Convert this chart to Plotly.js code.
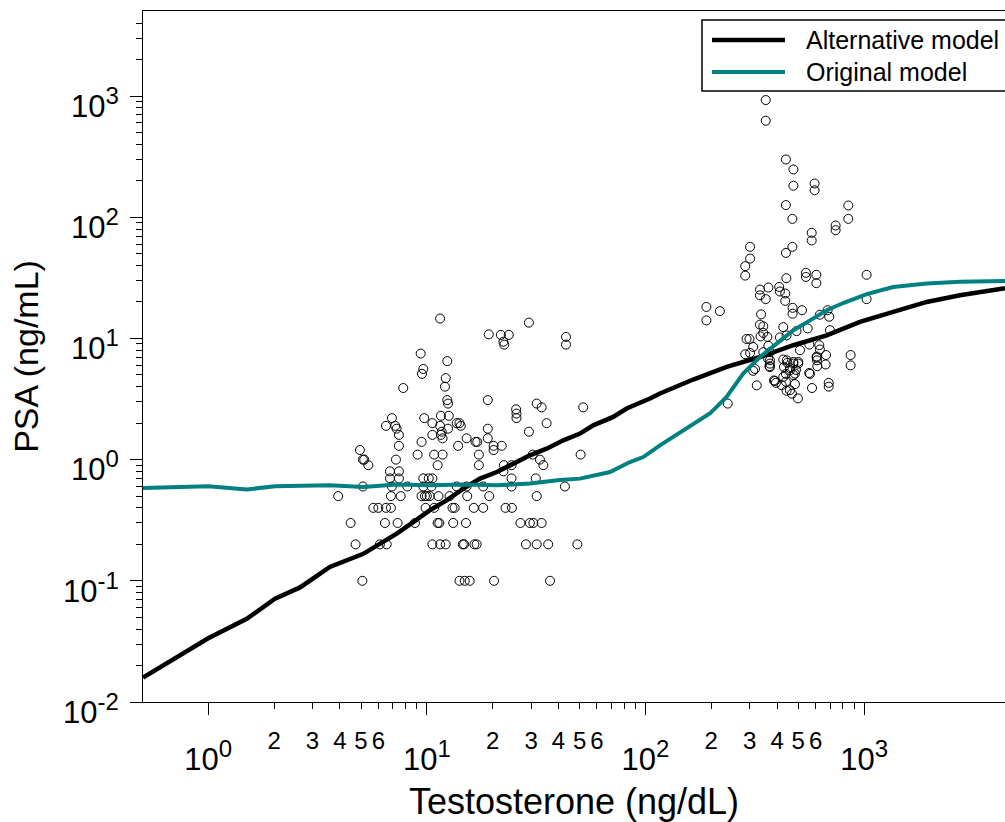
<!DOCTYPE html>
<html>
<head>
<meta charset="utf-8">
<script src="https://cdn.plot.ly/plotly-3.0.1.min.js"></script>
<style>html,body{margin:0;padding:0;background:#fff;overflow:hidden;}#chart{width:1005px;height:822px;}</style>
</head>
<body>
<div id="chart"></div>
<script>
// ---- Model curves ----
const altT   = [0.503, 1.0, 1.5, 2.02, 2.63, 3.6, 5.12, 6.1, 7.28, 8.67, 10.3, 12.3, 14.7, 17.5, 20.9, 24.9, 29.6, 35.3, 42.1, 50.2, 57.7, 71.2, 82.0, 104.9, 116.5, 165.4, 235.3, 334, 474.6, 674.5, 957.6, 1360, 1934, 2747, 4412];
const altPSA = [0.0159, 0.0336, 0.0486, 0.0711, 0.0882, 0.13, 0.167, 0.2025, 0.245, 0.305, 0.381, 0.461, 0.576, 0.697, 0.79, 0.927, 1.085, 1.232, 1.443, 1.64, 1.92, 2.25, 2.64, 3.19, 3.51, 4.58, 5.82, 7.03, 8.79, 10.6, 13.7, 16.55, 20.0, 22.7, 26.0];

const origT   = [0.503, 1.0, 1.5, 2.02, 3.6, 5.12, 7.28, 10.3, 14.7, 20.9, 29.6, 40.6, 50.2, 59.8, 68.8, 84.9, 97.7, 116.5, 154.3, 197, 235, 280, 334, 398, 475, 566, 675, 803, 1028, 1360, 1934, 2747, 4412];
const origPSA = [0.583, 0.602, 0.568, 0.602, 0.614, 0.594, 0.622, 0.614, 0.622, 0.614, 0.634, 0.68, 0.697, 0.742, 0.79, 0.955, 1.05, 1.31, 1.80, 2.40, 3.29, 5.13, 7.03, 9.08, 11.7, 14.1, 17.1, 19.6, 23.2, 26.6, 28.4, 29.3, 29.8];

// ---- Observed data (testosterone ng/dL, PSA ng/mL) ----
const obsT = [
  // low-testosterone group
  11.5, 29.3, 19.2, 21.8, 23.7, 22.4, 22.6, 43.3, 43.3, 9.37, 12.4, 9.63, 9.5, 12.2, 12.1, 7.8, 19.0, 12.4, 12.5, 31.8,
  33.5, 51.9, 25.6, 25.7, 25.7, 6.92, 6.5, 7.17, 7.27, 7.45, 9.73, 10.6, 11.6, 12.6, 11.5, 11.7, 11.6, 11.8, 12.5, 13.7,
  14.1, 14.3, 10.6, 15.2, 19.0, 19.0, 16.7, 17.0, 35.3, 29.3, 9.46, 7.45, 4.94, 5.1, 5.17, 5.4, 9.07, 10.8, 11.8, 13.9,
  17.3, 17.3, 20.2, 20.2, 22.0, 11.2, 7.22, 6.78, 7.45, 6.78, 7.45, 30.5, 32.9, 34.1, 50.5, 22.5, 24.4, 22.4, 31.5, 24.4,
  9.63, 10.2, 10.6,
  5.1, 6.92, 8.14, 9.63, 10.5, 13.7, 15.2, 18.1, 24.4, 42.8,
  3.93, 6.85, 7.59, 9.46, 9.8, 10.0, 10.3, 11.3, 12.7, 15.3, 19.3, 31.8,
  5.69, 6.0, 6.5, 6.85, 9.87, 10.8, 13.1, 13.4, 16.4, 18.1, 22.9, 24.5,
  4.48, 6.43, 7.35, 8.82, 11.2, 11.4, 13.2, 15.1, 26.8, 29.6, 30.7, 33.5,
  4.72, 6.1, 6.55, 10.6, 11.5, 12.2, 14.6, 14.8, 16.5, 16.9, 28.4, 31.8, 35.9, 48.8,
  5.07, 14.1, 14.9, 15.7, 20.3, 36.6,
  // high-testosterone group
  355, 355, 439, 475, 475, 594, 594, 439, 470, 847, 847, 741, 741, 576, 576, 470, 439, 301, 301, 286,
  286, 441, 542, 542, 605, 605, 1027, 1027, 334, 334, 365, 355, 409, 412, 436, 436, 471, 471, 520, 190,
  190, 219, 338, 628, 681, 693, 334, 346, 346, 336, 427, 491, 552, 698, 290, 299, 361, 412, 442, 365,
  311, 286, 301, 371, 509, 562, 624, 628, 607, 670, 868, 868, 371, 369, 317, 311, 427, 446, 475, 500,
  430, 458, 488, 439, 475, 566, 609, 611, 667, 387, 395, 439, 483, 442, 468, 498, 578, 689, 689, 323,
  238, 443, 475, 500, 458, 483, 427, 391, 420, 458, 561, 607, 346, 364, 371, 371
];
const obsPSA = [
  14.6, 13.5, 10.8, 10.7, 10.7, 9.4, 8.9, 10.3, 8.9, 7.5, 6.5, 5.6, 5.1, 4.7, 4.0, 3.9, 3.1, 3.1, 2.9, 2.9,
  2.7, 2.7, 2.6, 2.4, 2.2, 2.2, 1.9, 1.9, 1.8, 1.6, 2.2, 2.0, 2.3, 2.3, 1.9, 1.7, 1.6, 1.5, 1.8, 2.0,
  2.0, 1.9, 1.6, 1.5, 1.8, 1.5, 1.4, 1.4, 2.0, 1.7, 1.4, 1.3, 1.2, 1.0, 1.0, 0.9, 1.1, 1.1, 1.1, 1.3,
  1.1, 0.9, 1.3, 1.2, 1.3, 0.9, 1.0, 0.8, 0.8, 0.7, 0.7, 1.1, 1.0, 0.9, 1.1, 0.9, 0.9, 0.8, 0.7, 0.7,
  0.7, 0.7, 0.7,
  0.6, 0.6, 0.6, 0.6, 0.6, 0.6, 0.6, 0.6, 0.6, 0.6,
  0.5, 0.5, 0.5, 0.5, 0.5, 0.5, 0.5, 0.5, 0.5, 0.5, 0.5, 0.5,
  0.4, 0.4, 0.4, 0.4, 0.4, 0.4, 0.4, 0.4, 0.4, 0.4, 0.4, 0.4,
  0.3, 0.3, 0.3, 0.3, 0.3, 0.3, 0.3, 0.3, 0.3, 0.3, 0.3, 0.3,
  0.2, 0.2, 0.2, 0.2, 0.2, 0.2, 0.2, 0.2, 0.2, 0.2, 0.2, 0.2, 0.2, 0.2,
  0.1, 0.1, 0.1, 0.1, 0.1, 0.1,
  927, 626, 300, 248, 182, 190, 167, 126, 97, 125, 97, 85.5, 78.3, 74.4, 64.3, 57.0, 50.8, 57.0, 45.6, 39.5,
  33.0, 31.4, 34.8, 32.2, 33.5, 28.6, 33.5, 21.1, 25.3, 22.7, 26.3, 21.1, 26.6, 24.4, 23.5, 20.4, 17.9, 16.0, 17.1, 18.2,
  14.1, 16.8, 15.8, 15.7, 17.1, 15.1, 13.0, 12.6, 11.1, 10.4, 12.4, 11.5, 12.1, 11.7, 9.9, 9.9, 10.3, 10.2, 10.6, 8.7,
  8.5, 7.4, 7.6, 7.7, 8.0, 8.9, 8.8, 8.1, 7.1, 7.3, 7.3, 6.0, 6.6, 5.9, 5.6, 5.4, 6.7, 6.3, 6.4, 6.2,
  5.8, 5.7, 5.5, 5.1, 5.0, 5.1, 6.6, 5.9, 6.1, 4.5, 4.3, 4.4, 4.2, 3.7, 3.5, 3.2, 3.9, 4.3, 4.0, 4.1,
  2.9, 6.6, 6.2, 6.4, 5.46, 5.13, 4.81, 4.46, 4.11, 3.74, 5.19, 6.95, 7.7, 6.8, 6.2, 5.8
];

// ---- Tick labels and legend names ----
const supSize = 24;
function pow10(e) { return '10<sup><span style="font-size:' + supSize + 'px">' + e + '</span></sup>'; }
const xDecadeVals = [1, 10, 100, 1000];
const xDecadeText = ['0', '1', '2', '3'].map(pow10);
const xDigitVals = [2, 3, 4, 5, 6, 20, 30, 40, 50, 60, 200, 300, 400, 500, 600];
const xDigitText = ['2', '3', '4', '5', '6', '2', '3', '4', '5', '6', '2', '3', '4', '5', '6'];
const yDecadeVals = [0.01, 0.1, 1, 10, 100, 1000];
const yDecadeText = ['-2', '-1', '0', '1', '2', '3'].map(pow10);
const seriesNames = ['Alternative model', 'Original model'];

function minorVals(decades) {
  const out = [];
  decades.forEach(d => { for (let k = 2; k <= 9; k++) out.push(d * k); });
  return out;
}
const xMinor = minorVals([1, 10, 100]);
const yMinor = minorVals([0.01, 0.1, 1, 10, 100]).concat([2000, 3000, 4000]);

const FONT = '"Liberation Sans", Arial, Helvetica, sans-serif';
const TEAL = '#008080';
const xRange = [Math.log10(0.503), Math.log10(4412)];

const traces = [
  {
    x: obsT, y: obsPSA, type: 'scatter', mode: 'markers', showlegend: false,
    marker: {symbol: 'circle-open', size: 9, color: '#000', line: {width: 1, color: '#000'}},
    hoverinfo: 'x+y'
  },
  {
    x: altT, y: altPSA, type: 'scatter', mode: 'lines', name: seriesNames[0], showlegend: false,
    line: {color: '#000', width: 4.5}
  },
  {
    x: origT, y: origPSA, type: 'scatter', mode: 'lines', name: seriesNames[1], showlegend: false,
    line: {color: TEAL, width: 4}
  },
  // invisible trace that carries the digit labels on the second x axis
  {
    x: [1], y: [1], xaxis: 'x2', yaxis: 'y', mode: 'markers', showlegend: false,
    marker: {opacity: 0}, hoverinfo: 'skip'
  }
];

// legend box (paper coordinates of the plot area: 143..1005 px wide, 11..702 px high)
const px2x = p => (p - 143) / 862;
const px2y = p => (702 - p) / 691;
const shapes = [
  {type: 'rect', xref: 'paper', yref: 'paper', x0: px2x(702), x1: px2x(1012), y0: px2y(91), y1: px2y(20),
   line: {color: '#000', width: 1.5}, fillcolor: '#fff', layer: 'above'},
  {type: 'line', xref: 'paper', yref: 'paper', x0: px2x(712), x1: px2x(785), y0: px2y(40), y1: px2y(40),
   line: {color: '#000', width: 4.5}, layer: 'above'},
  {type: 'line', xref: 'paper', yref: 'paper', x0: px2x(712), x1: px2x(785), y0: px2y(72), y1: px2y(72),
   line: {color: TEAL, width: 4}, layer: 'above'}
];
const annotations = [
  {xref: 'paper', yref: 'paper', x: px2x(804), y: px2y(40), xanchor: 'left', yanchor: 'middle',
   text: seriesNames[0], showarrow: false, font: {family: FONT, size: 25, color: '#000'}},
  {xref: 'paper', yref: 'paper', x: px2x(804), y: px2y(72), xanchor: 'left', yanchor: 'middle',
   text: seriesNames[1], showarrow: false, font: {family: FONT, size: 25, color: '#000'}}
];

const layout = {
  width: 1005, height: 822,
  margin: {l: 143, r: 0, t: 11, b: 120, autoexpand: false},
  paper_bgcolor: '#fff', plot_bgcolor: '#fff',
  font: {family: FONT, color: '#000'},
  showlegend: false,
  shapes: shapes,
  annotations: annotations,
  xaxis: {
    type: 'log', range: xRange,
    tickmode: 'array', tickvals: xDecadeVals, ticktext: xDecadeText,
    ticks: 'outside', ticklen: 12, tickwidth: 1, tickcolor: '#000',
    ticklabelstandoff: 18,
    tickfont: {family: FONT, size: 31, color: '#000'},
    minor: {tickmode: 'array', tickvals: xMinor, ticks: 'outside', ticklen: 6, tickwidth: 1, tickcolor: '#000', showgrid: false},
    showline: true, linecolor: '#000', linewidth: 1, mirror: true,
    showgrid: false, zeroline: false,
    title: {text: 'Testosterone (ng/dL)', font: {family: FONT, size: 36, color: '#000'}, standoff: 12}
  },
  xaxis2: {
    type: 'log', range: xRange, overlaying: 'x', anchor: 'y', side: 'bottom',
    tickmode: 'array', tickvals: xDigitVals, ticktext: xDigitText,
    ticks: 'outside', ticklen: 12, tickcolor: 'rgba(0,0,0,0)',
    ticklabelstandoff: 5,
    tickfont: {family: FONT, size: 24, color: '#000'},
    showline: false, showgrid: false, zeroline: false
  },
  yaxis: {
    type: 'log', range: [-2, 3.702],
    tickmode: 'array', tickvals: yDecadeVals, ticktext: yDecadeText,
    ticks: 'outside', ticklen: 12, tickwidth: 1, tickcolor: '#000',
    ticklabelstandoff: 5, ticklabelshift: 10,
    tickfont: {family: FONT, size: 31, color: '#000'},
    minor: {tickmode: 'array', tickvals: yMinor, ticks: 'outside', ticklen: 6, tickwidth: 1, tickcolor: '#000', showgrid: false},
    showline: true, linecolor: '#000', linewidth: 1,
    showgrid: false, zeroline: false,
    title: {text: 'PSA (ng/mL)', font: {family: FONT, size: 34, color: '#000'}, standoff: 14}
  }
};

Plotly.newPlot('chart', traces, layout, {displayModeBar: false, staticPlot: true});
</script>
</body>
</html>
